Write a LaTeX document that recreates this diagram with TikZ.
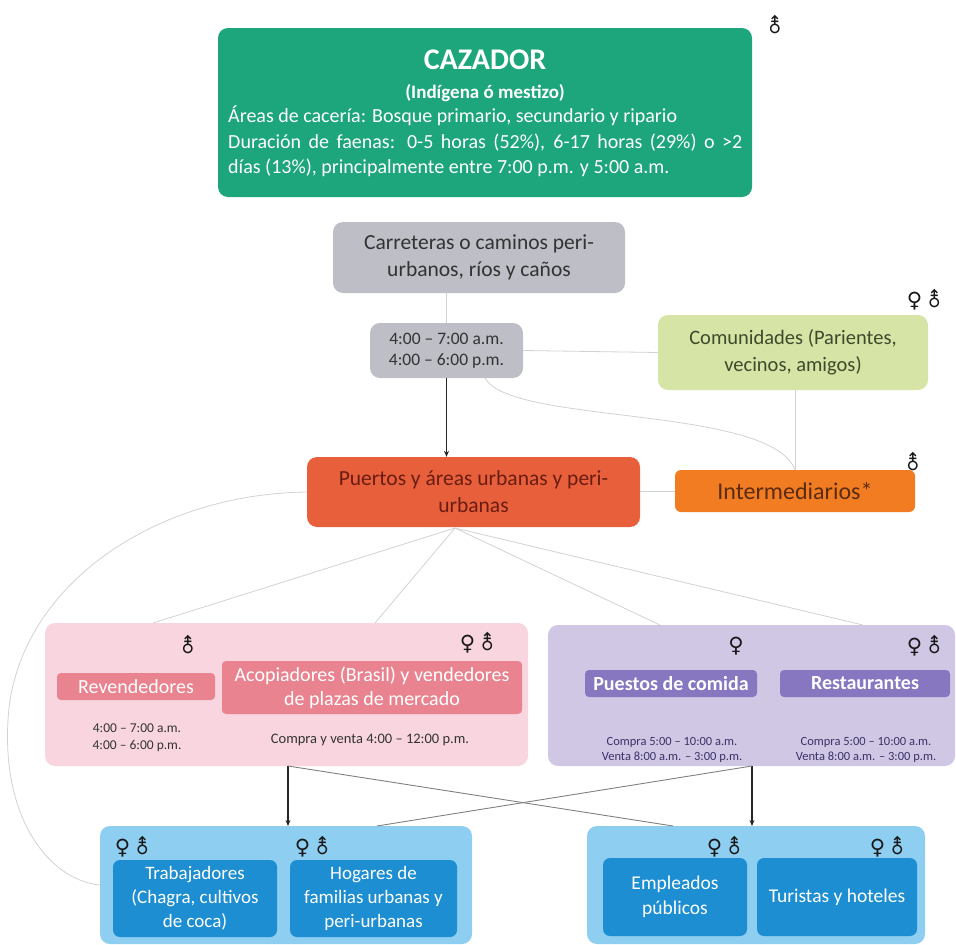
\documentclass[tikz,border=0pt]{standalone}
\usepackage{fontspec}
\setmainfont{Carlito}
\newfontfamily\symf{DejaVu Sans}
\usetikzlibrary{arrows.meta}
\definecolor{cgreen}{HTML}{1DA57C}
\definecolor{cgray}{HTML}{BDBEC6}
\definecolor{cgrayt}{HTML}{333333}
\definecolor{clime}{HTML}{D6E4A6}
\definecolor{climet}{HTML}{3E4A2C}
\definecolor{cport}{HTML}{E8603B}
\definecolor{cportt}{HTML}{6A1C12}
\definecolor{cinter}{HTML}{F17C22}
\definecolor{cintert}{HTML}{5B2B12}
\definecolor{cpink}{HTML}{F9D6DF}
\definecolor{cpinkd}{HTML}{E8838F}
\definecolor{cpur}{HTML}{CFC7E4}
\definecolor{cpurd}{HTML}{8776C0}
\definecolor{cpurt}{HTML}{3B3168}
\definecolor{cblue}{HTML}{8DCEF1}
\definecolor{cblued}{HTML}{1D8ED1}
\definecolor{cline}{HTML}{D2D2D2}
\definecolor{cdline}{HTML}{808080}
\newcommand{\fs}[2]{\fontsize{#1}{#2}\selectfont}
\newcommand{\male}{{\symf\bfseries ⚨}}
\newcommand{\female}{{\symf\bfseries ♀}}
\tikzset{
  rbox/.style={rounded corners=10pt, inner sep=0pt, align=center},
  sbox/.style={rounded corners=4pt, inner sep=0pt, align=center},
  sym/.style={inner sep=0pt, text=black!90, font=\fs{21}{21}},
  thin line/.style={draw=cline, line width=0.8pt},
  dark line/.style={draw=cdline, line width=0.9pt},
  arr/.style={draw=black!85, line width=1.4pt, -{Stealth[length=6pt,width=5pt]}},
  txt/.style={inner sep=0pt, align=center}
}
\begin{document}
\begin{tikzpicture}[x=1pt,y=-1pt]
\useasboundingbox (0,0) rectangle (956,945);
% top box
\node[rbox, fill=cgreen, minimum width=534pt, minimum height=169pt] (caz) at (485,112.5) {};
\node[txt, text=white, font=\bfseries\fs{30}{30}] (cazt) at (485,60) {CAZADOR};
\node[txt, text=white, font=\bfseries\fs{19}{19}] (cazs) at (485,93) {(Indígena ó mestizo)};
\node[inner sep=0pt, anchor=north west, text width=514pt, align=justify, text=white, font=\fs{20}{25.5}] (cazp) at (228,106)
 {Áreas de cacería: Bosque primario, secundario y ripario\\
  Duración de faenas: 0-5 horas (52\%), 6-17 horas (29\%) o >2\linebreak días (13\%), principalmente entre 7:00 p.m. y 5:00 a.m.};
\node[sym] (s1) at (775,25) {\male};
% gray boxes
\node[rbox, fill=cgray, minimum width=292pt, minimum height=71pt, text=cgrayt, font=\fs{21.5}{27}] (carr) at (479,257.5) {Carreteras o caminos peri-\\urbanos, ríos y caños};
\node[rbox, fill=cgray, minimum width=153pt, minimum height=55pt, text=cgrayt, font=\fs{17.5}{21}] (time) at (446.5,350.5) {4:00 – 7:00 a.m.\\4:00 – 6:00 p.m.};
\node[rbox, fill=clime, minimum width=270pt, minimum height=75pt, text=climet, font=\fs{20.5}{27}] (com) at (793,352.5) {Comunidades (Parientes,\\vecinos, amigos)};
\node[sym] (s2) at (925,300) {\female\,\male};
% orange
\node[rbox, fill=cport, minimum width=333pt, minimum height=70pt, text=cportt, font=\fs{21.5}{27}] (pue) at (473.5,492) {Puertos y áreas urbanas y peri-\\urbanas};
\node[rbox, rounded corners=6pt, fill=cinter, minimum width=240pt, minimum height=42pt, text=cintert, font=\fs{24}{26}] (int) at (795,491) {Intermediarios*};
\node[sym] (s3) at (913,462) {\male};
% pink
\node[rbox, fill=cpink, minimum width=483pt, minimum height=143pt] (pink) at (286.5,694.5) {};
\node[sbox, fill=cpinkd, minimum width=158pt, minimum height=27pt, text=white, font=\fs{20}{22}] (rev) at (136,686.5) {Revendedores};
\node[sbox, fill=cpinkd, minimum width=300pt, minimum height=53pt, text=white, font=\fs{20}{24}] (aco) at (372,687.5) {Acopiadores (Brasil) y vendedores\\de plazas de mercado};
\node[txt, text=cgrayt, font=\fs{13.5}{17}] (revt) at (137,738) {4:00 – 7:00 a.m.\\4:00 – 6:00 p.m.};
\node[txt, text=cgrayt, font=\fs{14.5}{16}] (acot) at (370,740) {Compra y venta 4:00 – 12:00 p.m.};
\node[sym] (s4) at (188,645) {\male};
\node[sym] (s5) at (478,643) {\female\,\male};
% purple
\node[rbox, fill=cpur, minimum width=407pt, minimum height=141pt] (pur) at (751.5,695.5) {};
\node[sbox, fill=cpurd, minimum width=172pt, minimum height=27pt, text=white, font=\bfseries\fs{20}{22}] (pc) at (671,683.5) {Puestos de comida};
\node[sbox, fill=cpurd, minimum width=170pt, minimum height=27pt, text=white, font=\bfseries\fs{20}{22}] (res) at (865,683.5) {Restaurantes};
\node[txt, text=cpurt, font=\fs{12.5}{15}] (pct) at (672,750) {Compra 5:00 – 10:00 a.m.\\Venta 8:00 a.m. – 3:00 p.m.};
\node[txt, text=cpurt, font=\fs{12.5}{15}] (rest) at (866,750) {Compra 5:00 – 10:00 a.m.\\Venta 8:00 a.m. – 3:00 p.m.};
\node[sym] (s6) at (736,646) {\female};
\node[sym] (s7) at (925,646) {\female\,\male};
% blue left
\node[rbox, fill=cblue, minimum width=372pt, minimum height=118pt] (bl) at (286,885) {};
\node[sbox, rounded corners=7pt, fill=cblued, minimum width=164pt, minimum height=77pt, text=white, font=\fs{19}{24}] (tra) at (195,898.5) {Trabajadores\\(Chagra, cultivos\\de coca)};
\node[sbox, rounded corners=7pt, fill=cblued, minimum width=167pt, minimum height=77pt, text=white, font=\fs{19}{24}] (hog) at (373.5,898.5) {Hogares de\\familias urbanas y\\peri-urbanas};
\node[sym] (s8) at (133,847) {\female\,\male};
\node[sym] (s9) at (313,847) {\female\,\male};
% blue right
\node[rbox, fill=cblue, minimum width=338pt, minimum height=118pt] (br) at (756,885) {};
\node[sbox, rounded corners=7pt, fill=cblued, minimum width=144pt, minimum height=78pt, text=white, font=\fs{19.5}{25}] (emp) at (675,897) {Empleados\\públicos};
\node[sbox, rounded corners=7pt, fill=cblued, minimum width=160pt, minimum height=78pt, text=white, font=\fs{19.5}{25}] (tur) at (837,897) {Turistas y hoteles};
\node[sym] (s10) at (725,847) {\female\,\male};
\node[sym] (s11) at (888,847) {\female\,\male};
% coordinates
\coordinate (pb) at (455,528);
\coordinate (p1) at (153,623);
\coordinate (p2) at (375,623);
\coordinate (p3) at (660,625);
\coordinate (p4) at (863,625);
\coordinate (pkb) at (288,766);
\coordinate (blt) at (288,826);
\coordinate (prb) at (752,766);
\coordinate (brt) at (752,826);
\coordinate (bltx) at (377,826);
\coordinate (brtx) at (673,826);
\coordinate (tb) at (485,378);
% connectors
\draw[thin line] (carr.south -| time.north) -- (time.north);
\draw[thin line] (time.east) -- (com.west);
\draw[arr] (time.south) -- (time.south |- pue.north);
\draw[thin line] (tb) .. controls (510,425) and (770,405) .. (int.north);
\draw[thin line] (com.south -| int.north) -- (int.north);
\draw[thin line] (int.west) -- (int.west -| pue.east);
\draw[thin line] (pb) -- (p1);
\draw[thin line] (pb) -- (p2);
\draw[thin line] (pb) -- (p3);
\draw[thin line] (pb) -- (p4);
\draw[thin line] (pue.west) .. controls (150,494) and (15,590) .. (8,720) .. controls (2,820) and (50,880) .. (bl.west);
\draw[arr] (pkb) -- (blt);
\draw[arr] (prb) -- (brt);
\draw[dark line] (pkb) -- (brtx);
\draw[dark line] (prb) -- (bltx);
\end{tikzpicture}
\end{document}
